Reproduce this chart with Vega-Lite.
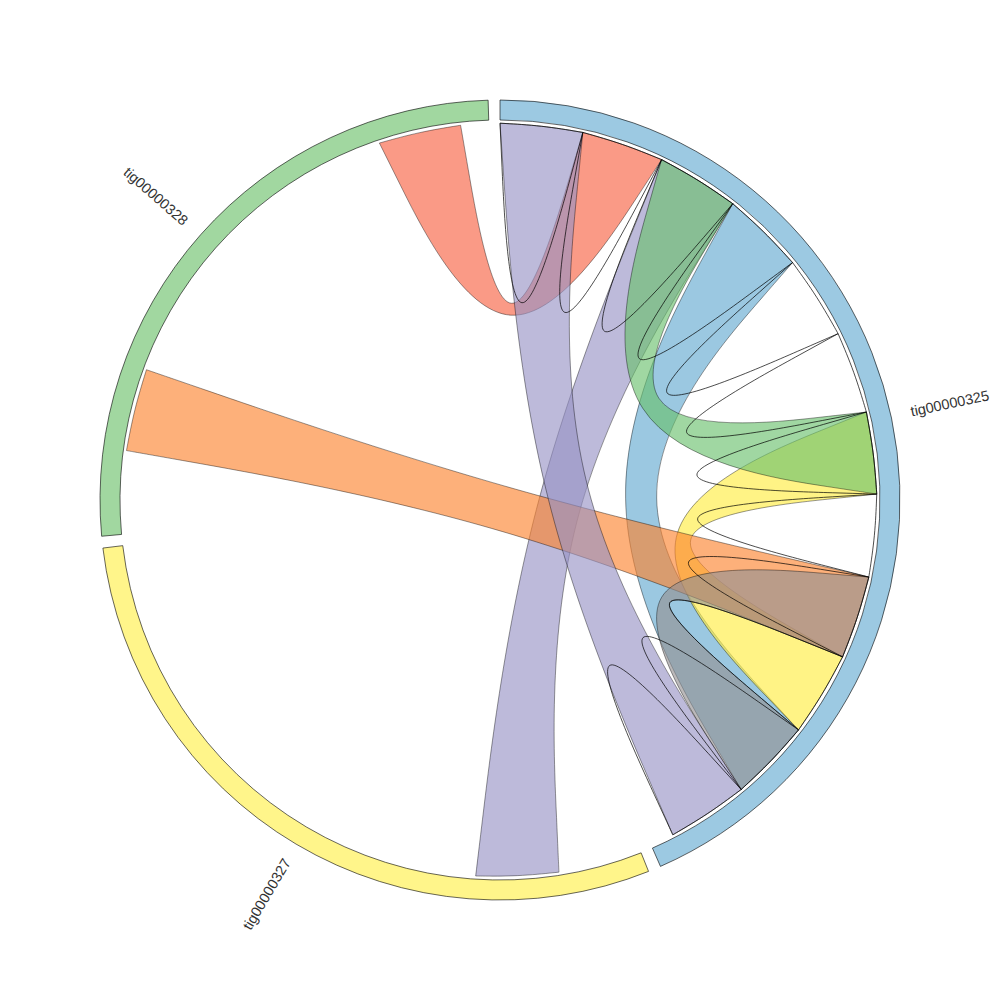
{
  "$schema": "https://vega.github.io/schema/vega-lite/v6.json",
  "width": 1000,
  "height": 1000,
  "padding": 0,
  "autosize": {"type": "fit", "contains": "padding"},
  "background": "white",
  "config": {"view": {"stroke": null}},
  "resolve": {"scale": {"fill": "independent"}},
  "datasets": {
    "sectors": [
      {"name": "tig00000325", "start": 0, "end": 156.35, "mid": 78.0},
      {"name": "tig00000327", "start": 158.2, "end": 263.1, "mid": 210.5},
      {"name": "tig00000328", "start": 264.8, "end": 358.3, "mid": 311.3}
    ],
    "links": [
      {"id": "R", "a": [341.33, 347.67, 354.0, 354.0, 354.0, 3.35, 12.7, 12.7, 12.7, 19.05, 25.4, 25.4, 25.4, 3.37, 341.33], "r": [0.942, 0.942, 0.942, 0.942, 0.942, 0.2743, 0.942, 0.942, 0.942, 0.942, 0.942, 0.942, 0.942, 0.2577, 0.942]},
      {"id": "P2", "a": [25.4, 31.78, 38.15, 38.15, 38.15, 104.58, 171.0, 171.0, 171.0, 177.35, 183.7, 183.7, 183.7, 104.55, 25.4], "r": [0.942, 0.942, 0.942, 0.942, 0.942, 0.1112, 0.942, 0.942, 0.942, 0.942, 0.942, 0.942, 0.942, 0.0523, 0.942]},
      {"id": "B", "a": [38.15, 44.55, 50.94, 50.94, 50.94, 89.27, 127.6, 127.6, 127.6, 133.9, 140.2, 140.2, 140.2, 89.18, 38.15], "r": [0.942, 0.942, 0.942, 0.942, 0.942, 0.2181, 0.942, 0.942, 0.942, 0.942, 0.942, 0.942, 0.942, 0.1748, 0.942]},
      {"id": "Y", "a": [76.5, 82.8, 89.1, 89.1, 89.1, 101.85, 114.6, 114.6, 114.6, 121.1, 127.6, 127.6, 127.6, 102.05, 76.5], "r": [0.942, 0.942, 0.942, 0.942, 0.942, 0.2712, 0.942, 0.942, 0.942, 0.942, 0.942, 0.942, 0.942, 0.2509, 0.942]},
      {"id": "G", "a": [25.4, 31.78, 38.15, 38.15, 38.15, 57.33, 76.5, 76.5, 76.5, 82.8, 89.1, 89.1, 89.1, 57.25, 25.4], "r": [0.942, 0.942, 0.942, 0.942, 0.942, 0.2626, 0.942, 0.942, 0.942, 0.942, 0.942, 0.942, 0.942, 0.2362, 0.942]},
      {"id": "O", "a": [101.8, 108.2, 114.6, 114.6, 114.6, 196.07, 277.54, 277.54, 277.54, 283.89, 290.23, 290.23, 290.23, 16.02, 101.8], "r": [0.942, 0.942, 0.942, 0.942, 0.942, 0.0412, 0.942, 0.942, 0.942, 0.942, 0.942, 0.942, 0.942, 0.0204, 0.942]},
      {"id": "X", "a": [101.8, 108.2, 114.6, 114.6, 114.6, 121.1, 127.6, 127.6, 127.6, 133.9, 140.2, 140.2, 140.2, 121.0, 101.8], "r": [0.942, 0.942, 0.942, 0.942, 0.942, 0.2763, 0.942, 0.942, 0.942, 0.942, 0.942, 0.942, 0.942, 0.2626, 0.942]},
      {"id": "P1", "a": [0, 6.35, 12.7, 12.7, 12.7, 76.45, 140.2, 140.2, 140.2, 146.45, 152.7, 152.7, 152.7, 76.35, 0], "r": [0.942, 0.942, 0.942, 0.942, 0.942, 0.1230, 0.942, 0.942, 0.942, 0.942, 0.942, 0.942, 0.942, 0.0656, 0.942]}
    ],
    "loops": [
      {"id": "L1", "a": [0, 6.35, 12.7, 12.7, 12.7, 6.35, 0], "r": [0.942, 0.942, 0.942, 0.942, 0.942, 0.2763, 0.942]},
      {"id": "L2", "a": [12.7, 19.05, 25.4, 25.4, 25.4, 19.05, 12.7], "r": [0.942, 0.942, 0.942, 0.942, 0.942, 0.2763, 0.942]},
      {"id": "L3", "a": [25.4, 31.78, 38.15, 38.15, 38.15, 31.78, 25.4], "r": [0.942, 0.942, 0.942, 0.942, 0.942, 0.2763, 0.942]},
      {"id": "L4", "a": [38.15, 44.55, 50.94, 50.94, 50.94, 44.55, 38.15], "r": [0.942, 0.942, 0.942, 0.942, 0.942, 0.2763, 0.942]},
      {"id": "L5", "a": [50.94, 57.37, 63.8, 63.8, 63.8, 57.37, 50.94], "r": [0.942, 0.942, 0.942, 0.942, 0.942, 0.2763, 0.942]},
      {"id": "L6", "a": [63.8, 70.15, 76.5, 76.5, 76.5, 70.15, 63.8], "r": [0.942, 0.942, 0.942, 0.942, 0.942, 0.2763, 0.942]},
      {"id": "L7", "a": [76.5, 82.8, 89.1, 89.1, 89.1, 82.8, 76.5], "r": [0.942, 0.942, 0.942, 0.942, 0.942, 0.2763, 0.942]},
      {"id": "L8", "a": [89.1, 95.45, 101.8, 101.8, 101.8, 95.45, 89.1], "r": [0.942, 0.942, 0.942, 0.942, 0.942, 0.2763, 0.942]},
      {"id": "L9", "a": [101.8, 108.2, 114.6, 114.6, 114.6, 108.2, 101.8], "r": [0.942, 0.942, 0.942, 0.942, 0.942, 0.2763, 0.942]},
      {"id": "L10", "a": [114.6, 121.1, 127.6, 127.6, 127.6, 121.1, 114.6], "r": [0.942, 0.942, 0.942, 0.942, 0.942, 0.2763, 0.942]},
      {"id": "L11", "a": [127.6, 133.9, 140.2, 140.2, 140.2, 133.9, 127.6], "r": [0.942, 0.942, 0.942, 0.942, 0.942, 0.2763, 0.942]},
      {"id": "L12", "a": [140.2, 146.45, 152.7, 152.7, 152.7, 146.45, 140.2], "r": [0.942, 0.942, 0.942, 0.942, 0.942, 0.2763, 0.942]}
    ]
  },
  "layer": [
    {
      "data": {"name": "sectors"},
      "mark": {"type": "arc", "radius": 400, "radius2": 380, "stroke": "black", "strokeWidth": 0.6},
      "encoding": {
        "theta": {"field": "start", "type": "quantitative", "stack": null, "scale": {"domain": [0, 360], "range": [0, 6.283185307179586]}},
        "theta2": {"field": "end"},
        "fill": {"field": "name", "type": "nominal", "scale": {"domain": ["tig00000325", "tig00000327", "tig00000328"], "range": ["#9CC9E2", "#FFF58A", "#A1D7A0"]}, "legend": null}
      }
    },
    {
      "data": {"name": "links"},
      "transform": [
        {"flatten": ["a", "r"]},
        {"calculate": "datum.r * sin(datum.a * PI / 180)", "as": "x"},
        {"calculate": "datum.r * cos(datum.a * PI / 180)", "as": "y"}
      ],
      "mark": {"type": "line", "interpolate": "basis", "stroke": "black", "strokeWidth": 0.5, "strokeOpacity": 0.8, "fillOpacity": 0.63},
      "encoding": {
        "x": {"field": "x", "type": "quantitative", "scale": {"domain": [-1.25, 1.25], "nice": false, "zero": false}, "axis": null},
        "y": {"field": "y", "type": "quantitative", "scale": {"domain": [-1.25, 1.25], "nice": false, "zero": false}, "axis": null},
        "order": {"value": null},
        "detail": {"field": "id", "type": "nominal"},
        "fill": {"field": "id", "type": "nominal", "scale": {"domain": ["R", "P2", "B", "Y", "G", "O", "X", "P1"], "range": ["#F75F3F", "#9691C4", "#60A8CF", "#FFEC3D", "#68BF6B", "#FC822C", "#939092", "#9691C4"]}, "legend": null}
      }
    },
    {
      "data": {"name": "loops"},
      "transform": [
        {"flatten": ["a", "r"]},
        {"calculate": "datum.r * sin(datum.a * PI / 180)", "as": "x"},
        {"calculate": "datum.r * cos(datum.a * PI / 180)", "as": "y"}
      ],
      "mark": {"type": "line", "interpolate": "basis", "stroke": "black", "strokeWidth": 0.7},
      "encoding": {
        "x": {"field": "x", "type": "quantitative"},
        "y": {"field": "y", "type": "quantitative"},
        "order": {"value": null},
        "detail": {"field": "id", "type": "nominal"}
      }
    },
    {
      "data": {"name": "sectors"},
      "transform": [{"filter": "datum.name === 'tig00000325'"}],
      "mark": {"type": "text", "radius": 460, "angle": 348, "align": "center", "baseline": "middle", "font": "Liberation Sans", "fontSize": 14.5, "fill": "#333333"},
      "encoding": {
        "theta": {"field": "mid", "type": "quantitative", "stack": null},
        "text": {"field": "name"}
      }
    },
    {
      "data": {"name": "sectors"},
      "transform": [{"filter": "datum.name === 'tig00000327'"}],
      "mark": {"type": "text", "radius": 458, "angle": 300.5, "align": "center", "baseline": "middle", "font": "Liberation Sans", "fontSize": 14.5, "fill": "#333333"},
      "encoding": {
        "theta": {"field": "mid", "type": "quantitative", "stack": null},
        "text": {"field": "name"}
      }
    },
    {
      "data": {"name": "sectors"},
      "transform": [{"filter": "datum.name === 'tig00000328'"}],
      "mark": {"type": "text", "radius": 459, "angle": 41.2, "align": "center", "baseline": "middle", "font": "Liberation Sans", "fontSize": 14.5, "fill": "#333333"},
      "encoding": {
        "theta": {"field": "mid", "type": "quantitative", "stack": null},
        "text": {"field": "name"}
      }
    }
  ]
}
